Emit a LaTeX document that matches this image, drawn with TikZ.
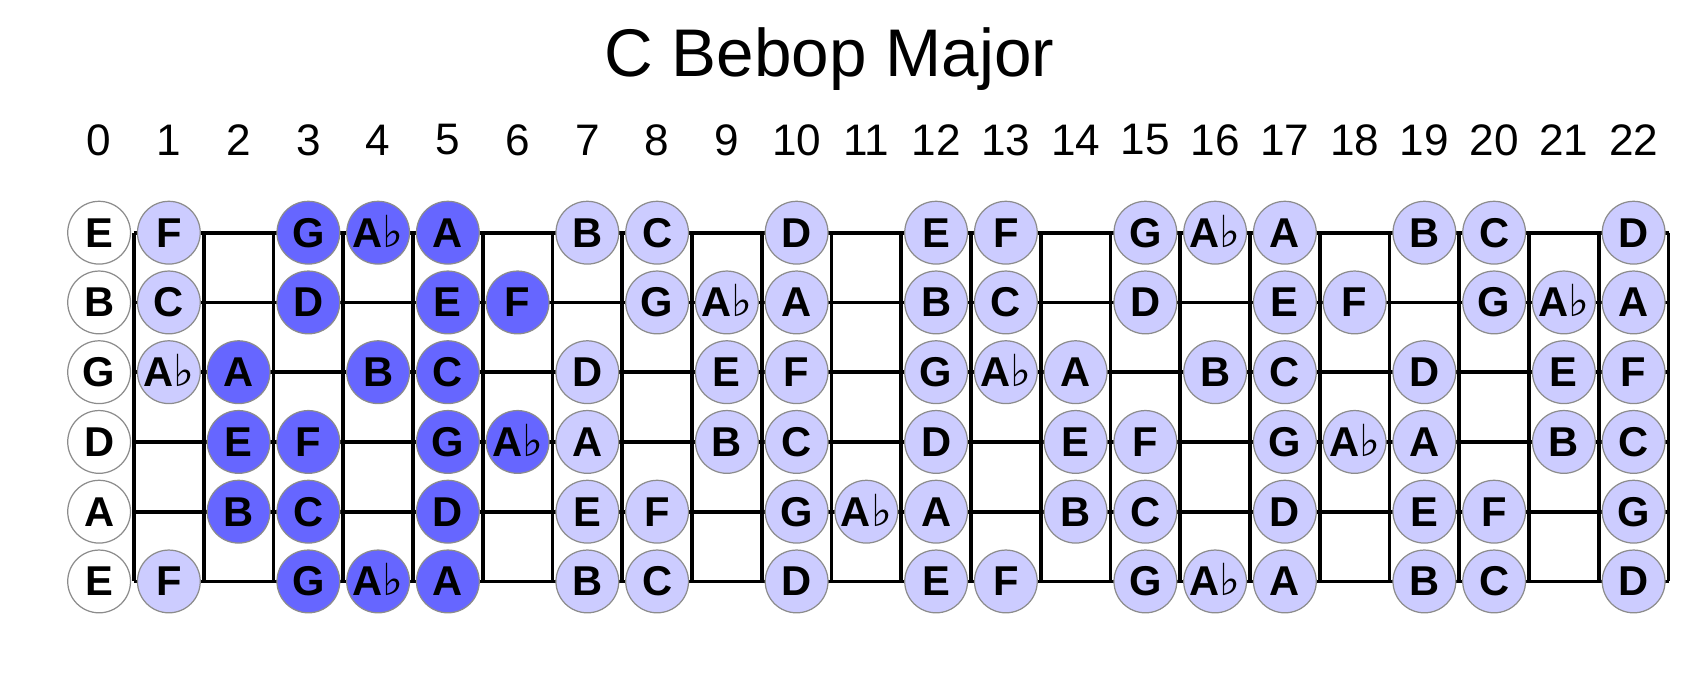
\documentclass[tikz,border=0pt]{standalone}
\usepackage{fontspec}
\setmainfont{Liberation Sans}
\newfontfamily\flatfont{DejaVu Sans}
\usepackage{xcolor}
\usetikzlibrary{calc}

\definecolor{notelight}{RGB}{204,204,255}
\definecolor{notedark}{RGB}{102,102,255}
\newcommand\notename[1]{\ifcase#1 C\or\or D\or\or E\or F\or\or G\or A\smash{\flatfont\mdseries\fontsize{18}{18}\selectfont ♭}\or A\or\or B\fi}

\begin{document}
\begin{tikzpicture}[
    note/.style={circle, draw=black!45, line width=0.5pt, minimum size=0.9cm, inner sep=0pt,
        font=\bfseries\fontsize{17}{17}\selectfont},
    opennote/.style={note, fill=white},
    lightnote/.style={note, fill=notelight},
    darknote/.style={note, fill=notedark},
    wire/.style={line width=1.5pt}]
    \useasboundingbox (-1.421,3.336) rectangle (22.794,-6.341);

    % Title
    \node (title) at (10.47,2.49) {\fontsize{27.5}{30}\selectfont C Bebop Major};

    % Fret numbers
    \foreach \f in {0,...,22}
        \node (num-\f) at (\f,1.33) {\fontsize{18}{20}\selectfont\f};

    % Strings and frets
    \foreach \s in {0,...,5}
        \draw[wire] (0.5,-\s) -- (22.5,-\s);
    \foreach \f in {0,...,22}
        \draw[wire] (\f+0.5,0) -- (\f+0.5,-5);

    % Open strings
    \foreach \s/\n in {0/E,1/B,2/G,3/D,4/A,5/E}
        \node[opennote] (open-\s) at (0,-\s) {\n};

    % Notes of the scale
    \foreach \s/\o in {0/4,1/11,2/7,3/2,4/9,5/4} {
        \foreach \f in {1,...,22} {
            \pgfmathtruncatemacro\p{mod(\o+\f,12)}
            \pgfmathtruncatemacro\inscale{(\p!=1)&&(\p!=3)&&(\p!=6)&&(\p!=10)}
            \pgfmathtruncatemacro\inbox{(\f>1)&&(\f<7)}
            \ifnum\inscale=1
                \ifnum\inbox=1
                    \node[darknote] (n-\s-\f) at (\f,-\s) {\notename{\p}};
                \else
                    \node[lightnote] (n-\s-\f) at (\f,-\s) {\notename{\p}};
                \fi
            \fi
        }
    }
\end{tikzpicture}
\end{document}
